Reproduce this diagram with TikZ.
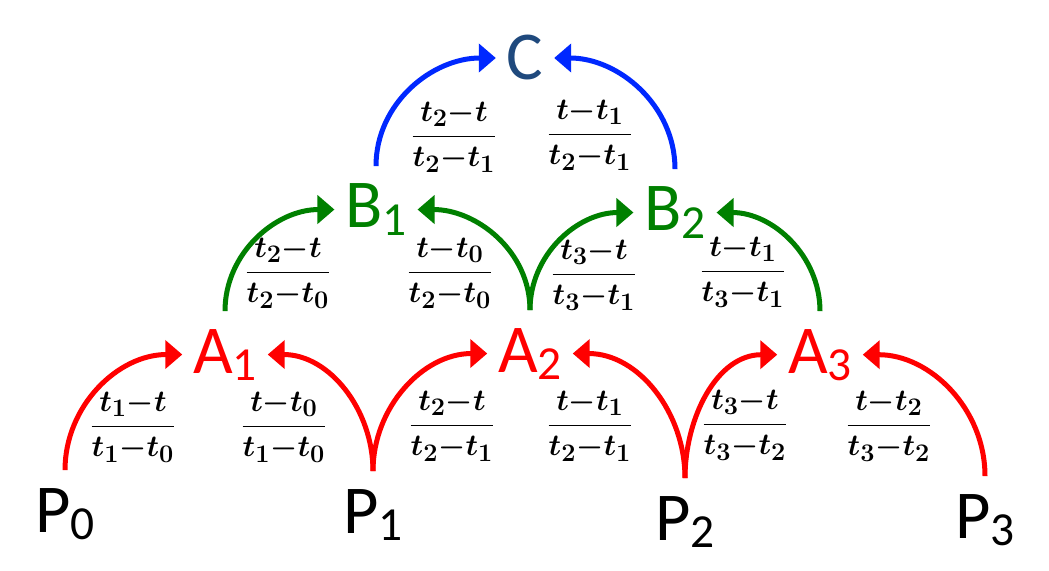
\documentclass[tikz,border=0pt]{standalone}
\usepackage{amsmath}
\usepackage{fontspec}
\setmainfont{Carlito}
\usetikzlibrary{arrows.meta,positioning}
\definecolor{ptred}{RGB}{255,0,0}
\definecolor{ptgreen}{RGB}{0,128,0}
\definecolor{ptblue}{RGB}{0,40,255}
\definecolor{cnavy}{RGB}{31,73,125}
\newcommand{\lsub}[1]{\raisebox{-4pt}{\fontsize{27}{27}\selectfont #1}}
\newcommand{\wfrac}[2]{$\medmuskip=0mu\relax\dfrac{#1}{#2}$}

\begin{document}
\begin{tikzpicture}[
    x=0.02cm, y=-0.02cm,
    pt/.style={font=\fontsize{39}{44}\selectfont, inner xsep=6pt, inner ysep=10pt, anchor=base},
    wt/.style={font=\fontsize{19}{22}\selectfont\boldmath, inner sep=0pt},
    arrow/.style={->, >={Triangle[length=0.34cm, width=0.56cm]}, line width=0.1cm}
]
    \useasboundingbox (0,0) rectangle (1049,571);

    % Control points
    \node[pt] (P0) at (65,532) {P\lsub{0}};
    \node[pt] (P1) at (373,533) {P\lsub{1}};
    \node[pt] (P2) at (685,540) {P\lsub{2}};
    \node[pt] (P3) at (985,538) {P\lsub{3}};

    % First level
    \node[pt, text=ptred] (A1) at (225,373) {A\lsub{1}};
    \node[pt, text=ptred] (A2) at (530,372) {A\lsub{2}};
    \node[pt, text=ptred] (A3) at (820,373) {A\lsub{3}};

    % Second level
    \node[pt, text=ptgreen] (B1) at (376,228) {B\lsub{1}};
    \node[pt, text=ptgreen] (B2) at (675,231) {B\lsub{2}};

    % Result
    \node[pt, text=cnavy] (C) at (525,80) {C};

    % Weights
    \node[wt] (wP0) at (133,427) {\wfrac{t_1-t}{t_1-t_0}};
    \node[wt] (wP1a) at (284,427) {\wfrac{t-t_0}{t_1-t_0}};
    \node[wt] (wP1b) at (452,426) {\wfrac{t_2-t}{t_2-t_1}};
    \node[wt] (wP2a) at (590,426) {\wfrac{t-t_1}{t_2-t_1}};
    \node[wt] (wP2b) at (745,425) {\wfrac{t_3-t}{t_3-t_2}};
    \node[wt] (wP3) at (889,426) {\wfrac{t-t_2}{t_3-t_2}};
    \node[wt] (wA1) at (288,273) {\wfrac{t_2-t}{t_2-t_0}};
    \node[wt] (wA2a) at (450,273) {\wfrac{t-t_0}{t_2-t_0}};
    \node[wt] (wA2b) at (594,275) {\wfrac{t_3-t}{t_3-t_1}};
    \node[wt] (wA3) at (743,272) {\wfrac{t-t_1}{t_3-t_1}};
    \node[wt] (wB1) at (454,137) {\wfrac{t_2-t}{t_2-t_1}};
    \node[wt] (wB2) at (590,135) {\wfrac{t-t_1}{t_2-t_1}};

    % Connections
    \draw[arrow, ptred] (P0.north) to[out=90, in=180] (A1.west);
    \draw[arrow, ptred] (P1.north) to[out=90, in=0] (A1.east);
    \draw[arrow, ptred] (P1.north) to[out=90, in=180] (A2.west);
    \draw[arrow, ptred] (P2.north) to[out=90, in=0] (A2.east);
    \draw[arrow, ptred] (P2.north) to[out=90, in=180] (A3.west);
    \draw[arrow, ptred] (P3.north) to[out=90, in=0] (A3.east);
    \draw[arrow, ptgreen] (A1.north) to[out=90, in=180] (B1.west);
    \draw[arrow, ptgreen] (A2.north) to[out=90, in=0] (B1.east);
    \draw[arrow, ptgreen] (A2.north) to[out=90, in=180] (B2.west);
    \draw[arrow, ptgreen] (A3.north) to[out=90, in=0] (B2.east);
    \draw[arrow, ptblue] (B1.north) to[out=90, in=180] (C.west);
    \draw[arrow, ptblue] (B2.north) to[out=90, in=0] (C.east);
\end{tikzpicture}
\end{document}
